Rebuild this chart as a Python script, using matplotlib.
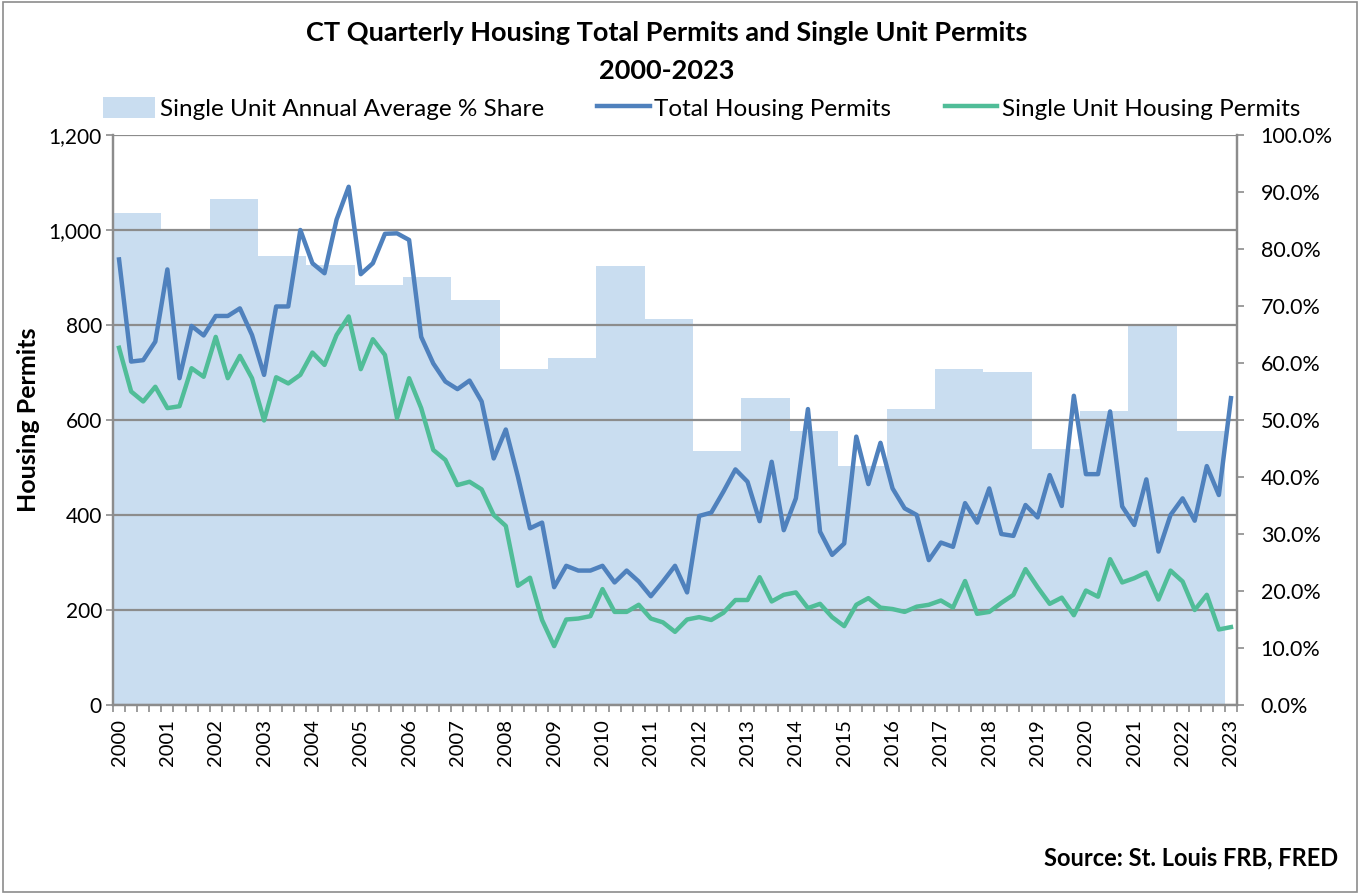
import numpy as np
import matplotlib
matplotlib.use("Agg")
import matplotlib.pyplot as plt
from matplotlib.ticker import FuncFormatter, FixedLocator
from matplotlib.patches import Rectangle

plt.rcParams['font.family'] = ['Lato', 'DejaVu Sans']

years = [str(y) for y in range(2000, 2024)]

total_permits = [938, 723, 726, 765, 917, 688, 798, 778, 819, 819, 835, 779, 695, 839, 839, 1000,
                 930, 909, 1022, 1091, 907, 930, 992, 993, 979, 775, 719, 681, 665, 683, 639, 519,
                 580, 481, 372, 384, 248, 293, 283, 283, 293, 258, 283, 260, 229, 260, 293, 237,
                 398, 405, 449, 496, 470, 387, 512, 368, 435, 623, 365, 316, 340, 565, 465,
                 552, 456, 414, 400, 305, 342, 333, 425, 384, 456, 360, 356, 421, 395, 484, 419,
                 651, 486, 486, 618, 418, 379, 475, 323, 400, 435, 388, 503, 442, 646]

single_permits = [752, 660, 639, 670, 625, 629, 709, 691, 775, 688, 735, 688, 599, 690, 677, 695,
                  742, 716, 779, 818, 707, 770, 737, 604, 688, 625, 537, 516, 463, 470, 454, 400,
                  377, 251, 268, 179, 124, 180, 182, 187, 244, 196, 196, 211, 182, 174, 154, 180,
                  185, 179, 194, 221, 221, 269, 218, 232, 237, 204, 213, 185, 166, 211, 225,
                  205, 202, 196, 207, 211, 220, 205, 261, 192, 196, 215, 232, 286, 248, 213, 226,
                  189, 241, 228, 307, 258, 267, 279, 222, 283, 260, 200, 232, 159, 164]

share_years = list(range(2000, 2023))
single_share = [86.3, 83.4, 88.8, 78.8, 77.2, 73.7, 75.1, 71.1, 58.9, 60.8, 77.1, 67.7,
                44.6, 53.9, 48.1, 42.0, 51.9, 58.9, 58.4, 44.9, 51.5, 66.7, 48.1]

BAR_C = '#C9DDF0'
TOTAL_C = '#4F81BD'
SINGLE_C = '#50BD98'
GRID_C = '#8C8C8C'

fig = plt.figure(figsize=(13.6, 8.94), dpi=100)
fig.patches.append(Rectangle((0.002, 0.002), 0.996, 0.996, transform=fig.transFigure,
                             fill=False, edgecolor='#8C8C8C', linewidth=1.2))

ax = fig.add_axes([113/1360, 1-705/894, (1237-113)/1360, (705-135)/894])
ax2 = ax.twinx()
ax.set_zorder(ax2.get_zorder() + 1)
ax.patch.set_visible(False)

n = len(total_permits)
xq = np.arange(n)

# bars: one per year spanning 4 quarters
bar_x = [(y - 2000) * 4 - 0.5 for y in share_years]
bars = ax2.bar(bar_x, single_share, width=4, align='edge', color=BAR_C, linewidth=0,
               label='Single Unit Annual Average % Share')

l1, = ax.plot(xq, total_permits, color=TOTAL_C, linewidth=3.2, solid_joinstyle='round',
              label='Total Housing Permits')
l2, = ax.plot(xq, single_permits, color=SINGLE_C, linewidth=3.2, solid_joinstyle='round',
              label='Single Unit Housing Permits')

ax.set_xlim(-0.5, n - 0.5)
ax.set_ylim(0, 1200)
ax2.set_ylim(0, 100)

ax.set_yticks(np.arange(0, 1201, 200))
ax.yaxis.set_major_formatter(FuncFormatter(lambda v, p: f'{int(v):,}'))
ax2.set_yticks(np.arange(0, 101, 10))
ax2.yaxis.set_major_formatter(FuncFormatter(lambda v, p: f'{v:.1f}%'))

ax.grid(axis='y', color=GRID_C, linewidth=1.6, zorder=0)
ax.set_axisbelow(False)
for ln in ax.get_ygridlines():
    ln.set_zorder(1)
l1.set_zorder(3)
l2.set_zorder(3)

ax.set_xticks(np.arange(0, n, 4))
ax.set_xticklabels(years, rotation=90)
ax.xaxis.set_minor_locator(FixedLocator(np.arange(-0.5, n, 1)))
ax.tick_params(axis='x', which='major', length=0, pad=10, labelsize=14.5)
ax.tick_params(axis='x', which='minor', length=5, width=1.2, color=GRID_C, direction='out')
ax.tick_params(axis='y', length=5, width=1.2, color=GRID_C, labelsize=15, pad=3)
ax2.tick_params(axis='y', length=5, width=1.2, color=GRID_C, labelsize=15.5, pad=12)

for a in (ax, ax2):
    a.spines['top'].set_visible(False)
    for s in ('left', 'right', 'bottom'):
        a.spines[s].set_color(GRID_C)
        a.spines[s].set_linewidth(1.6)

ax.set_ylabel('Housing Permits', fontsize=18, fontweight='bold', labelpad=6)

fig.text(0.4905, 0.963, 'CT Quarterly Housing Total Permits and Single Unit Permits',
         ha='center', va='center', fontsize=19.5, fontweight='bold')
fig.text(0.4905, 0.921, '2000-2023', ha='center', va='center', fontsize=19.5, fontweight='bold')

fig.legend(handles=[bars, l1, l2], loc='center', bbox_to_anchor=(0.5158, 0.879), ncol=3,
           frameon=False, fontsize=17.5, handlelength=2.15, handletextpad=0.2,
           columnspacing=2.2, handleheight=1.0)

fig.text(0.984, 0.040, 'Source: St. Louis FRB, FRED', ha='right', va='center',
         fontsize=17, fontweight='bold')

fig.savefig('out.png', dpi=100)
